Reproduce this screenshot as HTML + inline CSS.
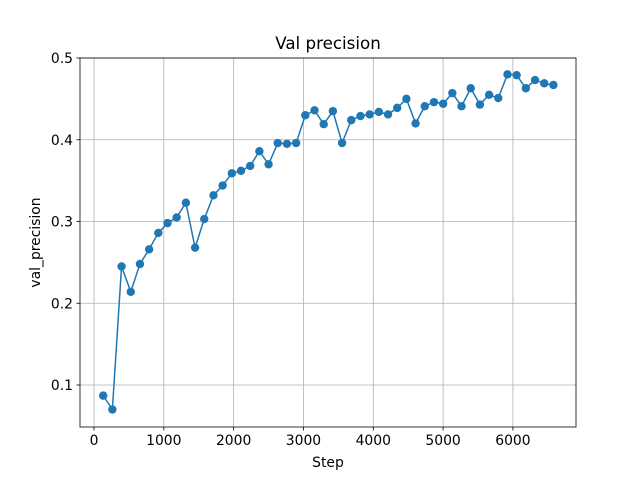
<!DOCTYPE html>
<html><head><meta charset="utf-8"><style>
body{margin:0;background:#fff}
text{font-family:"DejaVu Sans","Liberation Sans",sans-serif;fill:#000}
</style></head><body>
<svg id="chart" width="640" height="480">
<rect x="0" y="0" width="640" height="480" fill="#fff"/>
<g id="grid"></g>
<g id="ticks"></g>
<polyline id="line" fill="none" stroke="#1f77b4" stroke-width="1.5"/>
<g id="pts"></g>
<rect x="80" y="58" width="496" height="369" fill="none" stroke="#000" stroke-width="0.8"/>
<text x="328" y="49" font-size="16.7" text-anchor="middle">Val precision</text>
<text x="328" y="467" font-size="13.9" text-anchor="middle">Step</text>
<text transform="translate(40,242.5) rotate(-90)" font-size="13.9" text-anchor="middle">val_precision</text>
</svg>
<script>
const steps = [];
for (let k = 1; k <= 50; k++) steps.push(k * 131.6);
const values = [0.087,0.070,0.245,0.214,0.248,0.266,0.286,0.298,0.305,0.323,0.268,0.303,0.332,0.344,0.359,0.362,0.368,0.386,0.370,0.396,0.395,0.396,0.430,0.436,0.419,0.435,0.396,0.424,0.429,0.431,0.434,0.431,0.439,0.450,0.420,0.441,0.446,0.444,0.457,0.441,0.463,0.443,0.455,0.451,0.480,0.479,0.463,0.473,0.469,0.467];
const xTicks = [0,1000,2000,3000,4000,5000,6000];
const yTicks = [0.1,0.2,0.3,0.4,0.5];
const NS = "http://www.w3.org/2000/svg";
const xs = v => 94 + v * 0.06982;
const ys = v => 58 + (0.5 - v) * 817.5;
const grid = document.getElementById('grid'), ticks = document.getElementById('ticks'), pts = document.getElementById('pts');
function mk(tag, attrs, parent) { const e = document.createElementNS(NS, tag); for (const k in attrs) e.setAttribute(k, attrs[k]); parent.appendChild(e); return e; }
xTicks.forEach(t => {
  const x = xs(t);
  const g = mk('line', {x1:x, x2:x, y1:58, y2:427, stroke:'#b0b0b0', 'stroke-width':0.8}, grid);
  
  
  mk('line', {x1:x, x2:x, y1:427, y2:430.5, stroke:'#000', 'stroke-width':0.8}, ticks);
  const tx = mk('text', {x:x, y:445, 'font-size':13.9, 'text-anchor':'middle'}, ticks);
  tx.textContent = t;
  
  
});
yTicks.forEach(t => {
  const y = ys(t);
  const g = mk('line', {x1:80, x2:576, y1:y, y2:y, stroke:'#b0b0b0', 'stroke-width':0.8}, grid);
  
  
  mk('line', {x1:76.5, x2:80, y1:y, y2:y, stroke:'#000', 'stroke-width':0.8}, ticks);
  const tx = mk('text', {x:73, y:y + 5, 'font-size':13.9, 'text-anchor':'end'}, ticks);
  tx.textContent = t.toFixed(1);
  
  
});
document.getElementById('line').setAttribute('points', steps.map((s, i) => xs(s) + ',' + ys(values[i])).join(' '));
steps.forEach((s, i) => {
  const c = mk('circle', {cx:xs(s), cy:ys(values[i]), r:4.2, fill:'#1f77b4'}, pts);
  
  
});
</script>
</body></html>
